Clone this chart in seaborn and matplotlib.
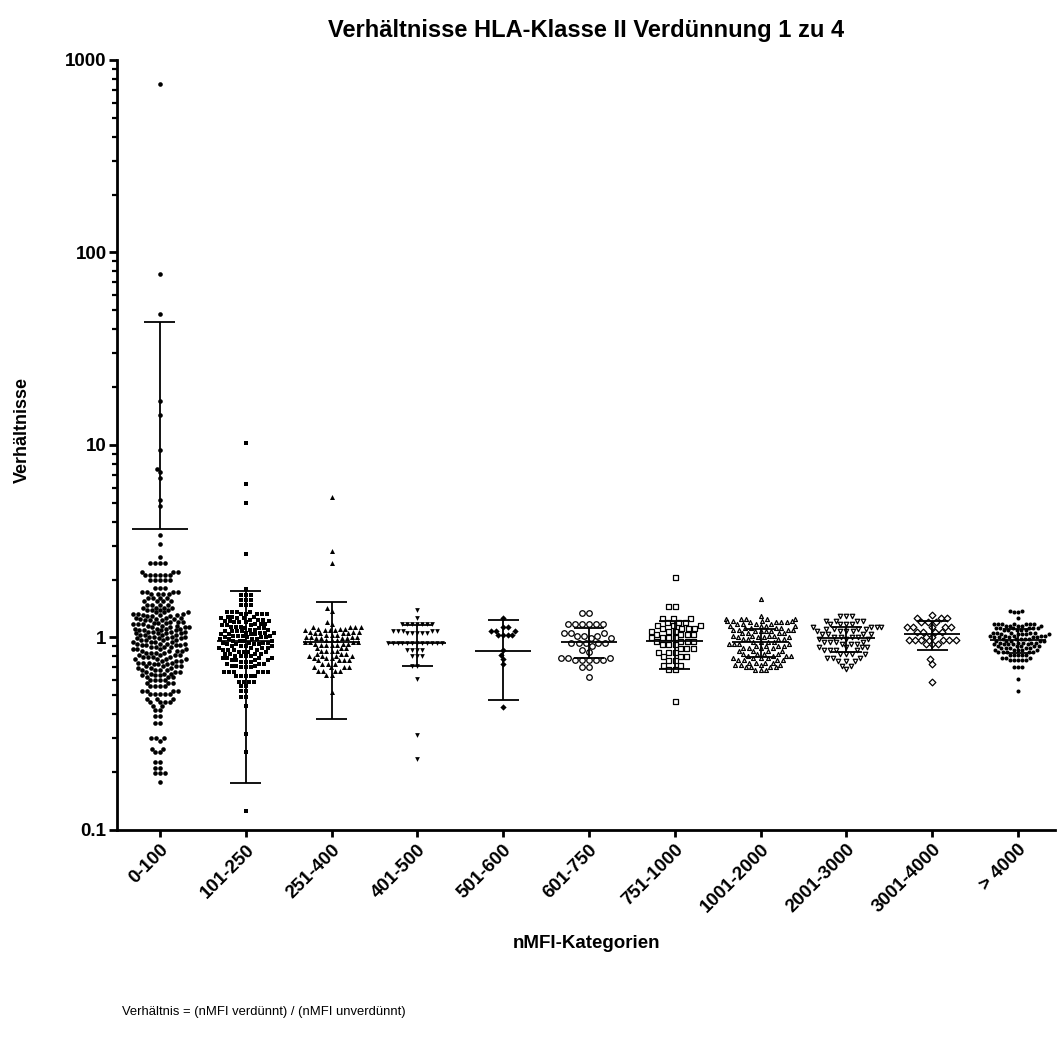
import numpy as np
import pandas as pd
import matplotlib
matplotlib.use('Agg')
import matplotlib.pyplot as plt
import seaborn as sns

# Kategorien der x-Achse
categories = ['0-100', '101-250', '251-400', '401-500', '501-600', '601-750',
              '751-1000', '1001-2000', '2001-3000', '3001-4000', '> 4000']

# Verhältnisse je Kategorie (Wert + Anzahl Punkte mit diesem Wert)
g0_vals = [746, 77, 48, 17, 14.4, 9.4, 7.5, 7.2, 6.7, 5.15, 4.8, 3.4, 3.05,
           2.63, 2.45, 2.2, 2.12, 1.98, 1.8, 1.72, 1.68, 1.6, 1.54, 1.48, 1.43, 1.39,
           1.35, 1.33, 1.31, 1.29, 1.27, 1.25, 1.23, 1.21, 1.19, 1.17, 1.15, 1.13, 1.11,
           1.09, 1.07, 1.05, 1.03, 1.01, 0.99, 0.97, 0.95, 0.93, 0.91, 0.89, 0.87, 0.85,
           0.83, 0.81, 0.79, 0.77, 0.755, 0.74, 0.725, 0.71, 0.695, 0.68, 0.665, 0.65,
           0.635, 0.62, 0.6, 0.58, 0.56, 0.53, 0.51, 0.48, 0.46, 0.44, 0.42, 0.39, 0.36,
           0.30, 0.29, 0.265, 0.255, 0.225, 0.21, 0.197, 0.177]
g0_reps = [1, 1, 1, 1, 1, 1, 1, 1, 1, 1, 1, 1, 1,
           1, 4, 3, 6, 5, 3, 4, 4, 4, 4, 4, 4, 4,
           3, 3, 3, 3, 3, 3, 3, 3, 3, 3, 3, 4, 4,
           4, 4, 4, 4, 4, 4, 4, 4, 4, 4, 4, 4, 4,
           4, 4, 4, 4, 3, 4, 3, 4, 3, 4, 3, 3,
           3, 3, 4, 3, 4, 4, 5, 3, 4, 2, 2, 2, 2,
           3, 1, 2, 2, 2, 2, 3, 1]

g1_vals = [10.2, 6.3, 4.97, 2.73, 1.78, 1.67, 1.56, 1.47, 1.36, 1.32,
           1.28, 1.26, 1.24, 1.22, 1.2, 1.18, 1.16, 1.14, 1.12, 1.1, 1.08, 1.06, 1.04,
           1.02, 1.0, 0.98, 0.96, 0.94, 0.92, 0.9, 0.88, 0.86, 0.84, 0.82, 0.8, 0.78,
           0.76, 0.745, 0.73, 0.715, 0.7, 0.66, 0.63, 0.59, 0.56, 0.53, 0.49, 0.44,
           0.317, 0.253, 0.126]
g1_reps = [1, 1, 1, 1, 1, 3, 3, 3, 4, 5,
           3, 3, 3, 3, 3, 3, 3, 3, 3, 3, 4, 4, 4,
           4, 4, 4, 4, 4, 4, 4, 4, 4, 4, 4, 4, 4,
           4, 3, 3, 3, 3, 6, 5, 4, 2, 2, 2, 1,
           1, 1, 1]

g2_vals = [5.34, 2.81, 2.45, 1.42, 1.38, 1.2, 1.17, 1.13, 1.11, 1.09, 1.07, 1.05,
           1.03, 1.01, 0.99, 0.97, 0.95, 0.93, 0.91, 0.88, 0.85, 0.82, 0.8, 0.78,
           0.76, 0.73, 0.7, 0.67, 0.64, 0.52]
g2_reps = [1, 1, 1, 1, 1, 1, 1, 4, 3, 4, 3, 4,
           3, 4, 4, 3, 4, 3, 4, 3, 4, 3, 4, 3,
           4, 3, 4, 4, 2, 1]

g3_vals = [1.39, 1.27, 1.17, 1.08, 1.05, 0.94, 0.866, 0.8, 0.707, 0.61, 0.313, 0.235]
g3_reps = [1, 1, 7, 5, 5, 12, 4, 3, 2, 1, 1, 1]

g4_vals = [1.266, 1.13, 1.083, 1.036, 0.856, 0.813, 0.775, 0.73, 0.433]
g4_reps = [1, 2, 3, 4, 1, 1, 1, 1, 1]

g5_vals = [1.344, 1.18, 1.06, 1.02, 0.99, 0.935, 0.9, 0.856, 0.836, 0.784, 0.766, 0.7, 0.62]
g5_reps = [2, 6, 3, 3, 2, 5, 1, 1, 1, 3, 5, 2, 1]

g6_vals = [2.07, 1.45, 1.26, 1.21, 1.16, 1.12, 1.08, 1.04, 1.0, 0.96, 0.92, 0.88,
           0.84, 0.8, 0.76, 0.72, 0.69, 0.466]
g6_reps = [1, 2, 3, 3, 3, 4, 3, 4, 4, 4, 3, 3,
           3, 3, 2, 2, 2, 1]

g7_vals = [1.588, 1.3, 1.25, 1.22, 1.2, 1.18, 1.15, 1.12, 1.1, 1.08, 1.05, 1.02, 1.0,
           0.98, 0.95, 0.92, 0.9, 0.88, 0.85, 0.82, 0.8, 0.78, 0.76, 0.74, 0.72, 0.7, 0.674]
g7_reps = [1, 1, 5, 4, 4, 4, 4, 4, 4, 4, 4, 4, 4,
           4, 4, 4, 4, 4, 4, 4, 4, 4, 4, 4, 4, 4, 3]

g8_vals = [1.29, 1.225, 1.17, 1.14, 1.11, 1.08, 1.045, 1.01, 0.985, 0.95, 0.93, 0.89,
           0.856, 0.816, 0.78, 0.753, 0.715, 0.687]
g8_reps = [3, 4, 4, 4, 4, 4, 4, 4, 3, 4, 3, 4,
           4, 4, 3, 3, 2, 1]

g9_vals = [1.31, 1.26, 1.2, 1.14, 1.074, 1.01, 0.965, 0.92, 0.775, 0.724, 0.586]
g9_reps = [1, 3, 3, 5, 4, 2, 6, 3, 1, 1, 1]

g10_vals = [1.38, 1.36, 1.266, 1.18, 1.15, 1.117, 1.09, 1.06, 1.04, 1.02, 1.0, 0.98,
            0.96, 0.94, 0.92, 0.9, 0.88, 0.86, 0.84, 0.81, 0.78, 0.76, 0.7, 0.605, 0.529]
g10_reps = [2, 2, 1, 7, 5, 6, 5, 5, 5, 5, 5, 5,
            5, 5, 5, 5, 5, 5, 5, 5, 3, 5, 3, 1, 1]

# Mittelwert und Standardabweichung (Fehlerbalken)
bar_mean = [3.68, 0.9625, 0.9475, 0.9375, 0.851, 0.95, 0.955, 0.95, 0.99, 1.04, 0.97]
bar_sd = [40.1, 0.7875, 0.5725, 0.23, 0.375, 0.17, 0.27, 0.16, 0.15, 0.175, 0.14]

group_vals = [g0_vals, g1_vals, g2_vals, g3_vals, g4_vals, g5_vals,
              g6_vals, g7_vals, g8_vals, g9_vals, g10_vals]
group_reps = [g0_reps, g1_reps, g2_reps, g3_reps, g4_reps, g5_reps,
              g6_reps, g7_reps, g8_reps, g9_reps, g10_reps]

# Prism-artige Symbole: erst gefüllt, dann offen
markers = ['o', 's', '^', 'v', 'D', 'o', 's', '^', 'v', 'D', 'o']
filled = [True, True, True, True, True, False, False, False, False, False, True]
sizes = [3.3, 3.3, 3.6, 3.4, 3.2, 4.0, 3.6, 2.8, 3.2, 3.4, 2.9]

frames = []
for cat, vals, reps in zip(categories, group_vals, group_reps):
    frames.append(pd.DataFrame({'Kategorie': cat,
                                'Verhaeltnis': np.repeat(vals, reps)}))
df = pd.concat(frames, ignore_index=True)

sns.set_style('ticks')
plt.rcParams['font.family'] = ['Liberation Sans', 'DejaVu Sans']
plt.rcParams['text.color'] = 'black'
plt.rcParams['axes.edgecolor'] = 'black'
plt.rcParams['xtick.color'] = 'black'
plt.rcParams['ytick.color'] = 'black'

fig = plt.figure(figsize=(10.57, 10.38), dpi=100)
ax = fig.add_axes([0.1107, 0.2004, 0.8873, 0.7418])
ax.set_yscale('log')

for i, cat in enumerate(categories):
    sub = df[df['Kategorie'] == cat]
    if filled[i]:
        sns.swarmplot(data=sub, x='Kategorie', y='Verhaeltnis', order=categories,
                      marker=markers[i], size=sizes[i], color='black',
                      linewidth=0, ax=ax, warn_thresh=1)
    else:
        sns.swarmplot(data=sub, x='Kategorie', y='Verhaeltnis', order=categories,
                      marker=markers[i], size=sizes[i], color='white',
                      edgecolor='black', linewidth=0.9, ax=ax, warn_thresh=1)

# Mittelwert ± SD
for i, (m, sd) in enumerate(zip(bar_mean, bar_sd)):
    upper = m + sd
    lower = m - sd
    ax.hlines(m, i - 0.33, i + 0.33, color='black', lw=1.3, zorder=5)
    ax.hlines(upper, i - 0.18, i + 0.18, color='black', lw=1.3, zorder=5)
    if lower > 0:
        ax.vlines(i, lower, upper, color='black', lw=1.3, zorder=5)
        ax.hlines(lower, i - 0.18, i + 0.18, color='black', lw=1.3, zorder=5)
    else:
        ax.vlines(i, m, upper, color='black', lw=1.3, zorder=5)

ax.set_ylim(0.1, 1000)
ax.set_xlim(-0.5, 10.43)
ax.set_yticks([0.1, 1, 10, 100, 1000])
ax.set_yticklabels(['0.1', '1', '10', '100', '1000'])
ax.set_xticks(range(len(categories)))
ax.set_xticklabels(categories, rotation=45, ha='right', rotation_mode='anchor')
ax.set_xlabel('')
ax.set_ylabel('')

for lab in ax.get_xticklabels() + ax.get_yticklabels():
    lab.set_fontweight('bold')
    lab.set_fontsize(13.5)
    lab.set_color('black')

sns.despine(ax=ax)
ax.spines['left'].set_linewidth(2.0)
ax.spines['bottom'].set_linewidth(2.0)
ax.tick_params(axis='y', which='major', length=6, width=2.0, pad=1.5, colors='black')
ax.tick_params(axis='y', which='minor', length=3.5, width=1.6, colors='black')
ax.tick_params(axis='x', which='major', length=5, width=2.0, pad=3, colors='black')
ax.tick_params(axis='x', which='minor', length=0)

fig.text(0.5544, 0.971, 'Verhältnisse HLA-Klasse II Verdünnung 1 zu 4',
         ha='center', va='center', fontsize=17, fontweight='bold', color='black')
fig.text(0.5544, 0.0906, 'nMFI-Kategorien', ha='center', va='center',
         fontsize=13.5, fontweight='bold', color='black')
fig.text(0.0208, 0.5857, 'Verhältnisse', ha='center', va='center',
         rotation=90, fontsize=13, fontweight='bold', color='black')
fig.text(0.1154, 0.025, 'Verhältnis = (nMFI verdünnt) / (nMFI unverdünnt)',
         ha='left', va='center', fontsize=9.4, color='black')

fig.savefig('out.png', dpi=100)
